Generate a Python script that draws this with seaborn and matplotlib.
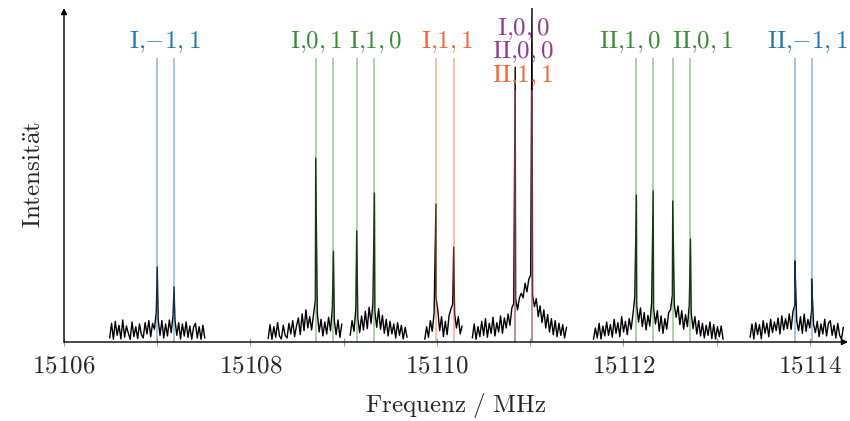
import numpy as np
import pandas as pd
import matplotlib
matplotlib.use("Agg")
import matplotlib.pyplot as plt
import seaborn as sns

# ---------------- data ----------------
# measured spectrum: segments (MHz) with intensity samples on an even grid
seg_start = [15106.49, 15108.19, 15109.07, 15109.87, 15110.38, 15111.68, 15113.36]
seg_end = [15107.51, 15108.98, 15109.68, 15110.27, 15111.39, 15113.07, 15114.36]

seg1 = [1.2, 5.6, 0.8, 6.2, 2.0, 5.0, 0.9, 6.6, 1.4, 4.8,
        2.6, 0.8, 6.0, 1.6, 4.6, 1.0, 5.4, 2.2, 1.2, 5.8,
        2.4, 6.4, 1.6, 5.6, 3.8, 9.0, 6.8, 2.0, 6.4, 1.2,
        5.4, 1.8, 6.6, 2.8, 8.0, 6.6, 2.0, 5.8, 0.9, 5.4,
        1.8, 6.0, 1.4, 4.8, 0.8, 4.4, 5.6, 1.2, 4.6, 0.8,
        5.0, 1.2]
seg2 = [1.0, 5.2, 0.8, 4.6, 1.4, 5.8, 1.8, 0.9, 5.0, 2.0,
        1.2, 5.6, 2.4, 6.4, 1.6, 4.8, 7.2, 2.2, 8.4, 3.4,
        9.6, 4.2, 7.6, 3.6, 8.2, 12.4, 8.8, 3.0, 6.8, 1.8,
        6.0, 2.4, 7.4, 3.4, 10.0, 6.6, 2.2, 6.6, 1.4, 5.4]
seg3 = [2.0, 6.4, 3.2, 10.0, 7.2, 2.8, 7.8, 3.6, 9.2, 4.0,
        10.4, 5.6, 11.6, 9.2, 4.4, 10.0, 3.8, 8.0, 2.6, 6.8,
        1.8, 6.2, 2.4, 5.4, 1.2, 5.8, 2.0, 5.0, 0.9, 4.4, 1.4]
seg4 = [0.8, 4.6, 1.4, 6.4, 3.2, 8.6, 13.4, 9.4, 3.4, 7.6,
        1.6, 6.2, 2.2, 7.8, 9.8, 11.4, 8.4, 4.2, 7.6, 2.4, 4.8]
seg5 = [1.2, 5.4, 0.8, 4.6, 1.6, 6.2, 2.0, 7.0, 1.4, 5.6,
        2.6, 7.4, 1.8, 5.8, 3.0, 7.8, 2.6, 7.2, 4.2, 8.4,
        5.0, 10.2, 11.5, 13.0, 9.6, 13.2, 14.6, 13.2, 17.6, 15.0,
        18.8, 20.0, 14.0, 10.6, 13.0, 7.6, 10.8, 5.8, 9.6, 4.2,
        8.2, 3.0, 7.0, 2.2, 6.4, 1.6, 5.6, 2.0, 5.2, 1.2, 4.4]
seg6 = [0.8, 4.2, 1.2, 5.6, 0.9, 4.8, 1.8, 6.0, 2.0, 5.2,
        1.4, 6.8, 2.6, 5.8, 1.6, 7.6, 3.0, 6.2, 2.2, 7.0,
        3.8, 8.2, 13.5, 11.0, 6.0, 10.2, 4.6, 8.8, 3.6, 8.0,
        4.8, 12.0, 10.0, 5.4, 9.4, 3.2, 7.8, 2.6, 7.0, 3.8,
        8.8, 9.6, 14.0, 11.2, 7.4, 10.8, 5.2, 9.4, 3.8, 8.2,
        4.6, 11.0, 8.8, 4.0, 7.6, 2.4, 6.4, 1.8, 5.6, 1.2,
        5.0, 2.0, 6.0, 1.0, 5.2, 0.9, 4.6, 1.6, 4.8, 0.8]
seg7 = [1.4, 5.4, 0.9, 5.8, 2.2, 5.2, 1.0, 6.4, 2.6, 5.6,
        1.6, 6.8, 2.8, 6.0, 3.4, 7.2, 2.4, 7.8, 3.6, 7.0,
        4.0, 8.4, 3.8, 9.2, 11.0, 6.2, 3.4, 7.6, 2.6, 8.4,
        3.2, 6.8, 4.2, 9.6, 5.4, 2.8, 6.2, 1.6, 5.4, 2.4,
        6.8, 1.8, 5.6, 6.4, 2.0, 5.0, 1.2, 5.6, 2.0, 0.9, 4.4]
segments = [seg1, seg2, seg3, seg4, seg5, seg6, seg7]

# peak maxima in the measured spectrum
peak_freq = [15107.00, 15107.18, 15108.70, 15108.89, 15109.14, 15109.33,
             15109.99, 15110.18, 15110.84, 15111.02, 15112.14, 15112.32,
             15112.53, 15112.72, 15113.84, 15114.02]
peak_int = [22.5, 16.5, 55.0, 27.2, 33.2, 44.6,
            41.3, 28.4, 82.3, 100.0, 44.0, 45.2,
            42.2, 30.8, 24.3, 18.9]

# predicted transitions (vertical lines)
blue_lines = [15107.00, 15107.18, 15113.84, 15114.02]
green_lines = [15108.70, 15108.89, 15109.14, 15109.33,
               15112.14, 15112.32, 15112.53, 15112.72]
red_lines = [15109.99, 15110.18, 15110.84, 15111.02]
purple_lines = [15110.84, 15111.02]

# labels: text, frequency, colour key, level
label_text = [r"$\mathrm{I{,}{-}1,1}$", r"$\mathrm{I{,}0,1}$", r"$\mathrm{I{,}1,0}$",
              r"$\mathrm{I{,}1,1}$", r"$\mathrm{I{,}0,0}$", r"$\mathrm{II{,}0,0}$",
              r"$\mathrm{II{,}1,1}$", r"$\mathrm{II{,}1,0}$", r"$\mathrm{II{,}0,1}$",
              r"$\mathrm{II{,}{-}1,1}$"]
label_freq = [15107.08, 15108.71, 15109.34, 15110.11, 15110.93, 15110.93,
              15110.92, 15112.07, 15112.85, 15113.97]
label_col = ["blue", "green", "green", "red", "purple", "purple",
             "red", "green", "green", "blue"]
label_y = [88.0, 88.0, 88.0, 88.0, 92.0, 84.9, 77.9, 88.0, 88.0, 88.0]

x_ticks = [15106, 15108, 15110, 15112, 15114]
x_minor = [15107, 15109, 15111, 15113]

colors = {"blue": "#1f78b4", "green": "#3b8a36", "red": "#f26235", "purple": "#8e3a96"}

# ---------------- build table ----------------
rows = []
for k, (s, e, vals) in enumerate(zip(seg_start, seg_end, segments)):
    xs = np.linspace(s, e, len(vals))
    for x, v in zip(xs, vals):
        rows.append((x, v, k))
    for pf, pi in zip(peak_freq, peak_int):
        if s <= pf <= e:
            rows.append((pf, pi, k))
df = pd.DataFrame(rows, columns=["freq", "intensity", "segment"])
df = df.sort_values(["segment", "freq"], kind="mergesort").reset_index(drop=True)

# ---------------- plot ----------------
sns.set_theme(style="white")
plt.rcParams["mathtext.fontset"] = "cm"
plt.rcParams["font.family"] = ["DejaVu Serif"]

fig = plt.figure(figsize=(8.5, 4.21), dpi=100)
ax = fig.add_axes([64 / 850, 79 / 421, 784 / 850, 334 / 421])

sns.lineplot(data=df, x="freq", y="intensity", units="segment", estimator=None,
             sort=False, color="black", lw=1.0, ax=ax, zorder=2)

for key, freqs in [("blue", blue_lines), ("green", green_lines),
                   ("red", red_lines), ("purple", purple_lines)]:
    for f in freqs:
        t = 75.4 if f in purple_lines else 85.0
        ax.vlines(f, 0, t, color=colors[key], alpha=0.45, lw=1.3, zorder=3)

for txt, f, c, y in zip(label_text, label_freq, label_col, label_y):
    ax.text(f, y, txt, color=colors[c], fontsize=18, ha="center", va="baseline", zorder=4)

ax.set_xlim(15106, 15114.41)
ax.set_ylim(0, 100)
for sp in ax.spines.values():
    sp.set_visible(False)
ax.annotate("", xy=(1.0, 0), xytext=(0, 0), xycoords="axes fraction",
            arrowprops=dict(arrowstyle="-|>", lw=1.0, color="black", mutation_scale=9,
                            shrinkA=0, shrinkB=0), zorder=5)
ax.annotate("", xy=(0, 1.0), xytext=(0, 0), xycoords="axes fraction",
            arrowprops=dict(arrowstyle="-|>", lw=1.0, color="black", mutation_scale=9,
                            shrinkA=0, shrinkB=0), zorder=5)

ax.set_xticks(x_ticks)
ax.set_xticklabels([rf"${t}$" for t in x_ticks])
ax.set_xticks(x_minor, minor=True)
ax.set_yticks([])
ax.tick_params(axis="x", which="both", direction="inout", length=6, width=0.8,
               color="#9a9a9a", labelsize=18, pad=6, bottom=True)
ax.set_xlabel(r"$\mathrm{Frequenz\ /\ MHz}$", fontsize=18, labelpad=10)
ax.set_ylabel(r"$\mathrm{Intensit\ddot{a}t}$", fontsize=18, labelpad=14)
ax.grid(False)

fig.savefig("out.png", dpi=100)
